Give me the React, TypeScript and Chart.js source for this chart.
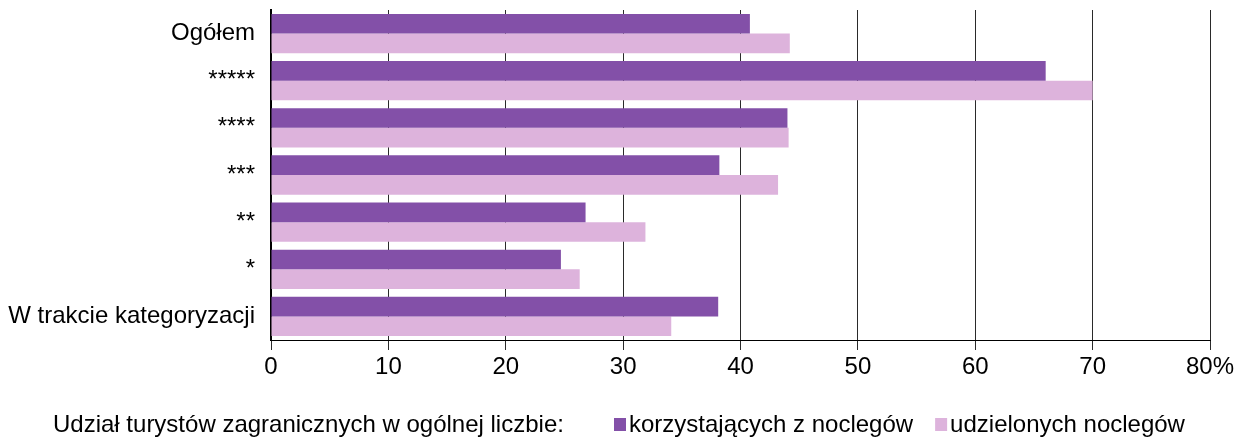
import React, { useEffect, useRef } from "react";
import { Chart, registerables } from "chart.js";

Chart.register(...registerables);

const categories = ["Ogółem", "*****", "****", "***", "**", "*", "W trakcie kategoryzacji"];
const korzystajacych = [40.8, 66.0, 44.0, 38.2, 26.8, 24.7, 38.1];
const udzielonych = [44.2, 70.0, 44.1, 43.2, 31.9, 26.3, 34.1];
const seriesNames = ["korzystających z noclegów", "udzielonych noclegów"];
const legendPrefix = "Udział turystów zagranicznych w ogólnej liczbie:";
const xTicks = [0, 10, 20, 30, 40, 50, 60, 70, 80];

const PURPLE = "#8350A8";
const PINK = "#DDB3DC";
const FONT = "'Liberation Sans', Arial, sans-serif";
const FONT_SIZE = 24;

const legendPlugin = {
  id: "customLegend",
  afterDraw(chart: any) {
    const ctx = chart.ctx;
    ctx.save();
    ctx.font = `${FONT_SIZE}px ${FONT}`;
    ctx.fillStyle = "#000";
    ctx.textBaseline = "alphabetic";
    ctx.textAlign = "left";
    const baseline = 432;
    ctx.fillText(legendPrefix, 53, baseline);
    let x = 614;
    const colors = [PURPLE, PINK];
    seriesNames.forEach((name, i) => {
      ctx.fillStyle = colors[i];
      ctx.fillRect(x, 418, 12, 13);
      ctx.fillStyle = "#000";
      ctx.fillText(name, x + 15, baseline);
      x = x + 15 + ctx.measureText(name).width + 22;
    });
    ctx.restore();
  },
};

export default function App() {
  const ref = useRef<HTMLCanvasElement>(null);
  useEffect(() => {
    document.body.style.margin = "0";
    if (!ref.current) return;
    const chart = new Chart(ref.current, {
      type: "bar",
      data: {
        labels: categories,
        datasets: [
          {
            label: seriesNames[0],
            data: korzystajacych,
            backgroundColor: PURPLE,
            categoryPercentage: 0.834,
            barPercentage: 1,
          },
          {
            label: seriesNames[1],
            data: udzielonych,
            backgroundColor: PINK,
            categoryPercentage: 0.834,
            barPercentage: 1,
          },
        ],
      },
      options: {
        indexAxis: "y",
        responsive: false,
        animation: false,
        devicePixelRatio: 1,
        layout: { padding: { left: 0, top: 10, right: 44, bottom: 59 } },
        plugins: { legend: { display: false }, tooltip: { enabled: false } },
        scales: {
          x: {
            min: 0,
            max: 80,
            afterBuildTicks: (scale: any) => {
              scale.ticks = xTicks.map((v) => ({ value: v }));
            },
            afterFit: (scale: any) => {
              scale.height = 40;
              scale.paddingLeft = 0;
              scale.paddingRight = 0;
            },
            grid: {
              color: "#2a2a2a",
              lineWidth: 1,
              drawTicks: true,
              tickLength: 10,
            },
            border: { display: true, color: "#000", width: 1 },
            ticks: {
              color: "#000",
              font: { family: FONT, size: FONT_SIZE },
              padding: 3,
              maxRotation: 0,
              autoSkip: false,
              callback: (v: any) => (Number(v) === 80 ? "80%" : String(v)),
            },
          },
          y: {
            afterFit: (scale: any) => {
              scale.width = 271;
              scale.paddingTop = 0;
              scale.paddingBottom = 0;
            },
            grid: { display: false },
            border: { display: true, color: "#000", width: 2 },
            ticks: {
              color: "#000",
              font: { family: FONT, size: FONT_SIZE },
              padding: 8,
              autoSkip: false,
            },
          },
        },
      },
      plugins: [legendPlugin],
    });
    return () => chart.destroy();
  }, []);
  return (
    <div style={{ width: 1254, height: 439 }}>
      <canvas ref={ref} width={1254} height={439} />
    </div>
  );
}
